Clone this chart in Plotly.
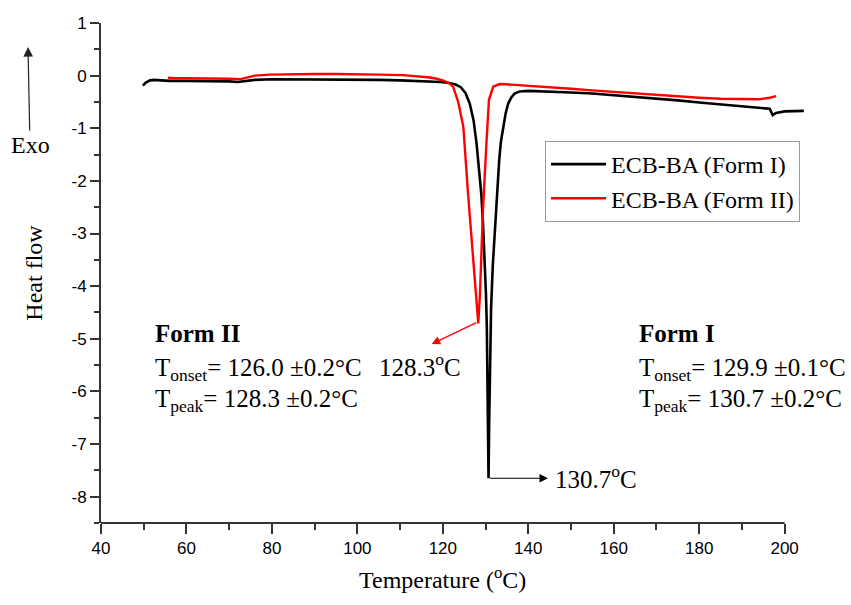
import plotly.graph_objects as go

# Form I (black) DSC trace
temp_form1 = [49.8, 50.5, 51.5, 52.5, 54, 56, 60, 65, 70, 72, 74, 76, 80, 85, 90,
              95, 100, 105, 110, 114, 117, 119.5, 121.5, 123, 124.2, 125.3, 126.3, 127.2, 127.9, 128.5,
              129.0, 129.4, 129.8, 130.1, 130.3, 130.5, 130.7, 130.85, 131.0, 131.3,
              131.7, 132.2, 132.7, 133.2, 133.6, 134.1, 134.7, 135.3, 136.0, 136.8,
              138, 140, 145, 150, 155, 160, 165, 170, 175, 180,
              185, 190, 194, 196.5, 197.2, 198, 200, 202, 204.5]
heat_form1 = [-0.19, -0.13, -0.09, -0.08, -0.09, -0.1, -0.1, -0.1, -0.11, -0.12, -0.1, -0.08, -0.07, -0.07, -0.07,
              -0.07, -0.08, -0.08, -0.09, -0.1, -0.11, -0.12, -0.14, -0.17, -0.22, -0.33, -0.53, -0.85, -1.29, -1.75,
              -2.24, -2.8, -3.5, -4.15, -4.77, -6.0, -7.65, -6.6, -5.4, -4.4,
              -3.6, -2.88, -2.2, -1.6, -1.25, -0.97, -0.72, -0.53, -0.42, -0.34,
              -0.3, -0.29, -0.3, -0.32, -0.34, -0.37, -0.4, -0.43, -0.47, -0.51,
              -0.55, -0.58, -0.61, -0.63, -0.75, -0.71, -0.68, -0.67, -0.67]

# Form II (red) DSC trace
temp_form2 = [55.7, 57, 60, 65, 70, 72.5, 74, 76, 79.5, 85, 90, 95, 100, 105, 110.6,
              114, 116.5, 118.6, 120.3, 121.6, 122.4, 123.6, 124.8, 125.9, 127.1,
              128.0, 128.3, 128.7, 129.4, 130.2, 130.8, 131.8, 133.3, 136, 140,
              145, 150, 155, 160, 166, 170, 175, 180, 185, 190, 194, 196.5, 198]
heat_form2 = [-0.04, -0.05, -0.05, -0.05, -0.06, -0.07, -0.04, 0.0, 0.02, 0.03, 0.03, 0.03, 0.03, 0.02, 0.01,
              -0.01, -0.03, -0.06, -0.1, -0.15, -0.21, -0.5, -0.97, -2.24, -3.5,
              -4.55, -4.71, -4.14, -2.55, -1.29, -0.46, -0.21, -0.16, -0.17, -0.19,
              -0.22, -0.25, -0.28, -0.31, -0.34, -0.36, -0.39, -0.42, -0.44, -0.45, -0.45, -0.42, -0.39]

series_names = ["ECB-BA (Form I)", "ECB-BA (Form II)"]
x_ticks = [40, 60, 80, 100, 120, 140, 160, 180, 200]
y_ticks = [1, 0, -1, -2, -3, -4, -5, -6, -7, -8]

peak1 = (130.7, -7.65)
peak2 = (128.3, -4.71)

SERIF = "Liberation Serif, Times New Roman, serif"
SANS = "Liberation Sans, Arial, sans-serif"
AX = "#333333"

fig = go.Figure()
fig.add_trace(go.Scatter(x=temp_form1, y=heat_form1, mode="lines", name=series_names[0],
                         line=dict(color="black", width=2.6)))
fig.add_trace(go.Scatter(x=temp_form2, y=heat_form2, mode="lines", name=series_names[1],
                         line=dict(color="#ff0000", width=2.4)))

L, R, T, B = 101, 45, 23, 82
W, H = 851, 605
pw, ph = W - L - R, H - T - B

def px(xp):
    return (xp - L) / pw

def py(yp):
    return (H - B - yp) / ph

fig.update_layout(
    width=W, height=H,
    margin=dict(l=L, r=R, t=T, b=B, pad=0),
    plot_bgcolor="white", paper_bgcolor="white",
    showlegend=True,
    legend=dict(x=px(545), y=py(141), xanchor="left", yanchor="top",
                font=dict(family=SERIF, size=24, color="black"),
                bordercolor="#999999", borderwidth=1, bgcolor="white",
                itemwidth=55, tracegroupgap=0),
    xaxis=dict(range=[40, 205], tickvals=x_ticks, ticktext=[str(v) for v in x_ticks],
               ticks="outside", ticklen=10, tickwidth=1.5,
               tickcolor=AX, showline=False, showgrid=False, zeroline=False,
               tickfont=dict(family=SANS, size=17, color="black"),
               minor=dict(dtick=10, tick0=40, ticks="outside", ticklen=6, tickwidth=1.5, tickcolor=AX, showgrid=False)),
    yaxis=dict(range=[-8.5, 1], tickvals=y_ticks, ticktext=[str(v) for v in y_ticks],
               ticks="outside", ticklen=9, tickwidth=1.5,
               tickcolor=AX, showline=True, linecolor=AX, linewidth=2, showgrid=False, zeroline=False,
               tickfont=dict(family=SANS, size=17, color="black"),
               minor=dict(dtick=0.5, tick0=0, ticks="outside", ticklen=5, tickwidth=1.5, tickcolor=AX, showgrid=False),
               title=dict(text="Heat flow", font=dict(family=SERIF, size=24, color="black"), standoff=22)),
)

# bottom axis line spans 40-200 only (data run slightly past the last tick)
fig.add_shape(type="line", xref="x", yref="paper", x0=x_ticks[0], x1=x_ticks[-1], y0=0, y1=0,
              line=dict(color=AX, width=2))

# x-axis title, centred under the 40-200 axis span
fig.add_annotation(xref="x", yref="paper", x=(x_ticks[0] + x_ticks[-1]) / 2, y=py(578),
                   xanchor="center", yanchor="middle", showarrow=False,
                   text="Temperature (<sup>o</sup>C)", font=dict(family=SERIF, size=24, color="black"))

afont = dict(family=SERIF, size=25, color="black")

# Exo arrow
fig.add_annotation(xref="paper", yref="paper", x=px(28), y=py(47), ax=2, ay=98,
                   text="Exo", showarrow=True, arrowhead=2, arrowsize=1.6, arrowwidth=1.2,
                   arrowcolor="#222222", font=dict(family=SERIF, size=24, color="black"))

# peak arrows
fig.add_annotation(xref="x", yref="y", axref="x", ayref="y",
                   x=117.4, y=-5.10, ax=peak2[0] - 0.1, ay=peak2[1] + 0.03,
                   text="", showarrow=True, arrowhead=2, arrowsize=1.3, arrowwidth=1.3,
                   arrowcolor="#ff0000", standoff=0, startstandoff=0)
fig.add_annotation(xref="x", yref="y", axref="x", ayref="y",
                   x=144.6, y=peak1[1], ax=peak1[0], ay=peak1[1],
                   text="", showarrow=True, arrowhead=2, arrowsize=1.4, arrowwidth=1.2,
                   arrowcolor="black", standoff=0, startstandoff=0)

fig.add_annotation(xref="paper", yref="paper", x=px(420), y=py(365), xanchor="center", yanchor="middle",
                   text="128.3<sup>o</sup>C", showarrow=False, font=afont)
fig.add_annotation(xref="paper", yref="paper", x=px(553), y=py(477), xanchor="left", yanchor="middle",
                   text="130.7<sup>o</sup>C", showarrow=False, font=afont)

# Form blocks
blocks = [
    (153, "Form II", "126.0", "0.2", "128.3", "0.2"),
    (637, "Form I", "129.9", "0.1", "130.7", "0.2"),
]
for xl, title, on, on_e, pk, pk_e in blocks:
    fig.add_annotation(xref="paper", yref="paper", x=px(xl), y=py(333), xanchor="left", yanchor="middle",
                       text=f"<b>{title}</b>", showarrow=False, font=afont)
    fig.add_annotation(xref="paper", yref="paper", x=px(xl), y=py(369), xanchor="left", yanchor="middle",
                       text=f"T<sub>onset</sub>= {on} ±{on_e}°C", showarrow=False, font=afont)
    fig.add_annotation(xref="paper", yref="paper", x=px(xl), y=py(400), xanchor="left", yanchor="middle",
                       text=f"T<sub>peak</sub>= {pk} ±{pk_e}°C", showarrow=False, font=afont)

fig.write_html("out.html")
